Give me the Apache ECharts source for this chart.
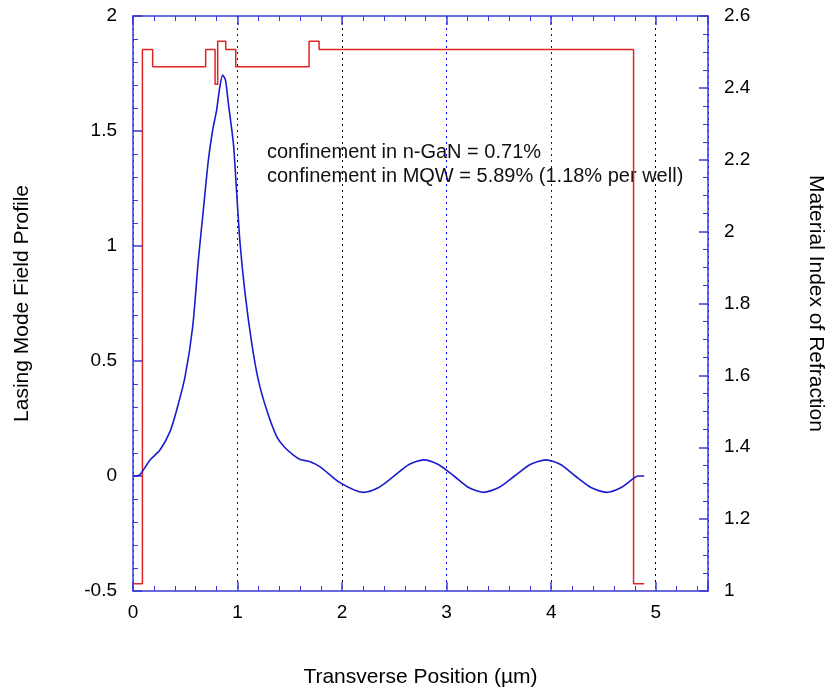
<!DOCTYPE html>
<html>
<head>
<meta charset="utf-8">
<script src="https://cdn.jsdelivr.net/npm/echarts@6/dist/echarts.min.js"></script>
<style>html,body{margin:0;padding:0;background:#fff}#c{width:827px;height:696px}</style>
</head>
<body>
<div id="c"></div>
<script>
// Lasing mode field profile (left axis)
const fieldX = [0, 0.06, 0.09, 0.163, 0.258, 0.354, 0.418, 0.498, 0.571, 0.625, 0.673, 0.721, 0.762, 0.80, 0.83, 0.858, 0.885, 0.912, 0.96, 0.992, 1.024, 1.072, 1.136, 1.199, 1.279, 1.375, 1.45, 1.534, 1.6, 1.694, 1.79, 1.98, 2.204, 2.35, 2.49, 2.64, 2.78, 2.92, 3.07, 3.21, 3.35, 3.5, 3.65, 3.8, 3.95, 4.09, 4.23, 4.38, 4.53, 4.67, 4.788, 4.83, 4.89];
const fieldY = [0, 0.003, 0.02, 0.07, 0.113, 0.193, 0.287, 0.432, 0.649, 0.939, 1.157, 1.374, 1.504, 1.591, 1.69, 1.743, 1.72, 1.62, 1.447, 1.229, 1.012, 0.794, 0.577, 0.417, 0.287, 0.171, 0.125, 0.091, 0.072, 0.062, 0.04, -0.029, -0.071, -0.05, -0.003, 0.05, 0.07, 0.05, 0.0, -0.05, -0.071, -0.05, 0.0, 0.05, 0.07, 0.05, 0.0, -0.05, -0.071, -0.05, -0.01, 0.0, 0.0];
// Material index of refraction (right axis), piecewise constant
const indexEdges = [0, 0.09, 0.188, 0.695, 0.785, 0.81, 0.887, 0.983, 1.684, 1.78, 4.788, 4.89];
const indexLevels = [1.02, 2.507, 2.459, 2.507, 2.41, 2.53, 2.507, 2.459, 2.53, 2.507, 1.02];
const xTicks = [0, 1, 2, 3, 4, 5];
const annotation = ['confinement in n-GaN = 0.71%', 'confinement in MQW = 5.89% (1.18% per well)'];

const fieldData = fieldX.map((x, i) => [x, fieldY[i]]);
const indexData = [];
indexLevels.forEach((n, i) => { indexData.push([indexEdges[i], n]); indexData.push([indexEdges[i + 1], n]); });

const AX = '#3a3ad8';
const FONT = 'Liberation Sans, Arial, sans-serif';
const chart = echarts.init(document.getElementById('c'));
function axisCommon(split) {
  return {
    axisLine: { show: true, onZero: false, lineStyle: { color: AX, width: 1.5 } },
    axisTick: { show: true, inside: true, length: 9, lineStyle: { color: AX, width: 1.5 } },
    minorTick: { show: true, splitNumber: split, length: 5, lineStyle: { color: AX, width: 1 } }
  };
}
chart.setOption({
  animation: false,
  grid: { left: 133, right: 119, top: 16, bottom: 105, show: false, containLabel: false, outerBoundsMode: 'none' },
  xAxis: [{
    type: 'value', min: 0, max: 5.5, interval: 1, position: 'bottom',
    ...axisCommon(5),
    axisLabel: { color: '#000', fontSize: 19, fontFamily: FONT, margin: 12, formatter: v => xTicks.includes(v) ? String(v) : '' },
    splitLine: { show: true, lineStyle: { type: [2, 4], width: 1, color: ['#0000ff', '#0000ff', '#000000', '#0000ff', '#0000ff', '#000000'] } },
    name: 'Transverse Position (µm)', nameLocation: 'middle', nameGap: 76,
    nameTextStyle: { color: '#000', fontSize: 21, fontFamily: FONT }
  }, {
    type: 'value', min: 0, max: 5.5, interval: 1, position: 'top',
    ...axisCommon(5),
    axisLabel: { show: false }, splitLine: { show: false }
  }],
  yAxis: [{
    type: 'value', min: -0.5, max: 2, interval: 0.5, position: 'left',
    ...axisCommon(5),
    axisLabel: { color: '#000', fontSize: 19, fontFamily: FONT, margin: 16 },
    splitLine: { show: false },
    name: 'Lasing Mode Field Profile', nameLocation: 'middle', nameGap: 100, nameRotate: 90,
    nameTextStyle: { color: '#000', fontSize: 21, fontFamily: FONT }
  }, {
    type: 'value', min: 1, max: 2.6, interval: 0.2, position: 'right',
    ...axisCommon(4),
    axisLabel: { color: '#000', fontSize: 19, fontFamily: FONT, margin: 16, formatter: v => String(+v.toFixed(1)) },
    splitLine: { show: false },
    name: 'Material Index of Refraction', nameLocation: 'middle', nameGap: 97, nameRotate: -90,
    nameTextStyle: { color: '#000', fontSize: 21, fontFamily: FONT }
  }],
  series: [{
    type: 'line', xAxisIndex: 0, yAxisIndex: 1, data: indexData, showSymbol: false, symbol: 'none',
    lineStyle: { color: '#e02424', width: 1.5 }, z: 3
  }, {
    type: 'line', xAxisIndex: 0, yAxisIndex: 0, data: fieldData, showSymbol: false, symbol: 'none',
    smooth: 0.25,
    lineStyle: { color: '#1c1ccc', width: 1.6 }, z: 4
  }],
  graphic: [{
    type: 'text', left: 267, top: 140,
    style: { text: annotation.join('\n'), fill: '#111', font: '20px ' + FONT, lineHeight: 24 }
  }]
});
</script>
</body>
</html>
